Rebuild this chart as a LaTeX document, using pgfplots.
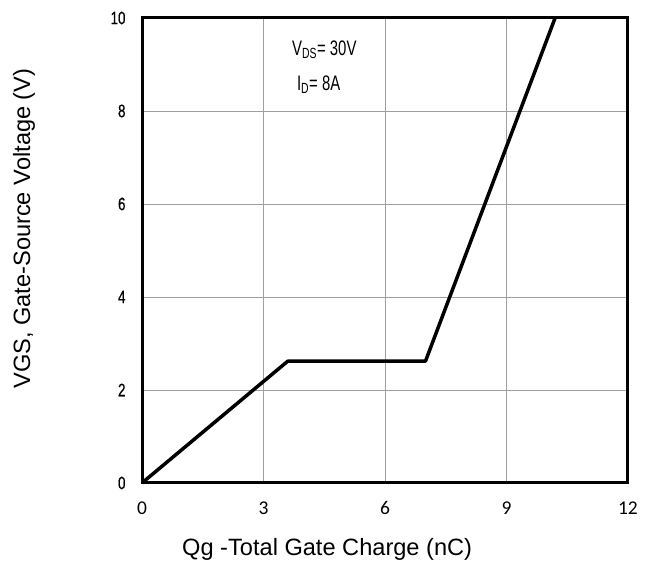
\documentclass[border=0pt]{standalone}
\usepackage{fontspec}
\setmainfont{Liberation Sans}
\newfontfamily\carlito{Carlito}
\newfontfamily\narrow[FakeStretch=0.71]{Liberation Sans}
\newfontfamily\ticknarrow[FakeStretch=0.74,FakeBold=0.6]{Liberation Sans}
\usepackage{pgfplots}
\pgfplotsset{compat=1.18}
\begin{document}
\begin{tikzpicture}
\begin{axis}[
    scale only axis,
    width=486pt, height=465pt,
    xmin=0, xmax=12, ymin=0, ymax=10,
    xtick={0,3,6,9,12},
    ytick={0,2,4,6,8,10},
    major tick length=0pt,
    grid=major,
    grid style={gray!75, line width=0.8pt},
    axis line style={line width=3pt, black},
    /pgf/number format/assume math mode=true,
    x tick label style={font=\carlito\fontsize{19.5}{19.5}\selectfont, yshift=-15pt},
    y tick label style={font=\ticknarrow\fontsize{18}{18}\selectfont, xshift=-13pt},
    clip=false,
]
\addplot[black, line width=3.5pt, line join=round] coordinates {
(0,0) (3.6,2.62) (7.0,2.62) (10.2,10)
};
\node[anchor=base west, font=\narrow\fontsize{21}{21}\selectfont] at (axis cs:3.62,9.20) {V\textsubscript{DS}= 30V};
\node[anchor=base west, font=\narrow\fontsize{21}{21}\selectfont] at (axis cs:3.74,8.45) {I\textsubscript{D}= 8A};
\node[font=\fontsize{23.6}{23.6}\selectfont] at (rel axis cs:0.381,-0.142) {Qg -Total Gate Charge (nC)};
\node[rotate=90, font=\fontsize{23.6}{23.6}\selectfont] at (rel axis cs:-0.243,0.547) {VGS, Gate-Source Voltage (V)};
\coordinate (bl) at (rel axis cs:-0.2922,-0.1828);
\coordinate (tr) at (rel axis cs:1.0597,1.0387);
\end{axis}
\pgfresetboundingbox
\useasboundingbox (bl) rectangle (tr);
\end{tikzpicture}
\end{document}
